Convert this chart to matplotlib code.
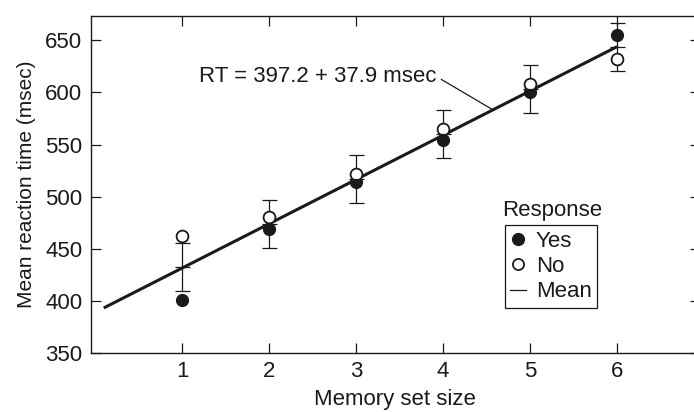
import matplotlib.pyplot as plt
from matplotlib.lines import Line2D

plt.rcParams['font.family'] = ['Liberation Sans', 'DejaVu Sans']
plt.rcParams['font.size'] = 16

ink = '#1a1a1a'

set_size = [1, 2, 3, 4, 5, 6]
rt_yes = [401, 469, 514, 554, 600, 655]
rt_no = [462, 480, 522, 565, 608, 632]
rt_mean = [432, 474, 517, 560, 603, 644]
rt_err = [23, 23, 23, 23, 23, 23]

# fitted line as drawn in the figure
fit_x = [0.1, 6.0]
fit_y = [393, 644]

fig = plt.figure(figsize=(6.94, 4.12), dpi=100)
ax = fig.add_axes([0.1307, 0.1439, 0.8775, 0.8161])

ax.errorbar(set_size, rt_mean, yerr=rt_err, fmt='none', ecolor=ink,
            elinewidth=0.9, capsize=5.4, capthick=0.9, zorder=2)
ax.plot(fit_x, fit_y, color=ink, lw=2.2, solid_capstyle='butt', zorder=3)
ax.plot(set_size, rt_yes, 'o', color=ink, ms=8.5, zorder=4)
ax.plot(set_size, rt_no, 'o', mfc='white', mec=ink, mew=1.3, ms=8.5, zorder=5)
ax.plot(set_size, rt_mean, '_', color=ink, ms=10.8, mew=0.9, zorder=6)

ax.annotate('RT = 397.2 + 37.9 msec', xy=(4.56, 584), xytext=(1.19, 615.5),
            ha='left', va='center', color=ink,
            arrowprops=dict(arrowstyle='-', color=ink, lw=0.9,
                            shrinkA=2, shrinkB=0, relpos=(1, 0.5)))

ax.set_xlim(-0.05, 6.95)
ax.set_ylim(350, 673)
ax.set_xticks(set_size)
ax.set_yticks([350, 400, 450, 500, 550, 600, 650])
ax.tick_params(direction='in', length=7, width=0.9, colors=ink,
               top=True, right=True, pad=6)
for s in ax.spines.values():
    s.set_linewidth(1.0)
    s.set_color(ink)

ax.set_xlabel('Memory set size', color=ink, labelpad=5)
ax.set_ylabel('Mean reaction time (msec)', color=ink, labelpad=7, fontsize=15)

handles = [
    Line2D([], [], marker='o', ls='none', color=ink, ms=8.5),
    Line2D([], [], marker='o', ls='none', mfc='white', mec=ink, mew=1.3, ms=8),
    Line2D([], [], color=ink, lw=0.9),
]
leg = ax.legend(handles, ['Yes', 'No', 'Mean'], loc='upper left',
                bbox_to_anchor=(0.680, 0.380), borderaxespad=0,
                fancybox=False, framealpha=1, edgecolor=ink,
                handlelength=0.7, handletextpad=0.45, labelspacing=0.2,
                borderpad=0.25)
leg.get_frame().set_linewidth(0.9)
for t in leg.get_texts():
    t.set_color(ink)
ax.text(0.757, 0.422, 'Response', transform=ax.transAxes,
        ha='center', va='center', color=ink)

fig.savefig('out.png', dpi=100)
